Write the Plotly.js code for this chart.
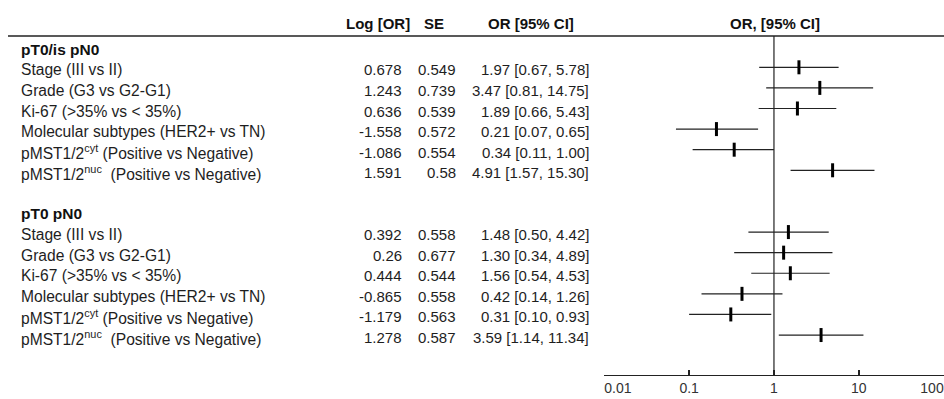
<!DOCTYPE html>
<html><head><meta charset="utf-8">
<script src="https://cdn.plot.ly/plotly-3.0.1.min.js"></script>
<style>html,body{margin:0;padding:0;background:#fff;} #chart{width:944px;height:399px;}</style>
</head><body><div id="chart"></div>
<script>
// ---- data ----
const groupNames = ["pT0/is pN0", "pT0 pN0"];
const variables = [
  "Stage (III vs II)",
  "Grade (G3 vs G2-G1)",
  "Ki-67 (&gt;35% vs &lt; 35%)",
  "Molecular subtypes (HER2+ vs TN)",
  "pMST1/2<sup>cyt</sup> (Positive vs Negative)",
  "pMST1/2<sup>nuc</sup>\u00a0 (Positive vs Negative)"
];
const logOR_A = [0.678, 1.243, 0.636, -1.558, -1.086, 1.591];
const se_A    = [0.549, 0.739, 0.539, 0.572, 0.554, 0.58];
const or_A    = [1.97, 3.47, 1.89, 0.21, 0.34, 4.91];
const lo_A    = [0.67, 0.81, 0.66, 0.07, 0.11, 1.57];
const hi_A    = [5.78, 14.75, 5.43, 0.65, 1.00, 15.30];
const logOR_B = [0.392, 0.26, 0.444, -0.865, -1.179, 1.278];
const se_B    = [0.558, 0.677, 0.544, 0.558, 0.563, 0.587];
const or_B    = [1.48, 1.30, 1.56, 0.42, 0.31, 3.59];
const lo_B    = [0.50, 0.34, 0.54, 0.14, 0.10, 1.14];
const hi_B    = [4.42, 4.89, 4.53, 1.26, 0.93, 11.34];
const colHeaders = ["Log [OR]", "SE", "OR [95% CI]", "OR, [95% CI]"];
const tickVals = [0.01, 0.1, 1, 10, 100];
const tickText = ["0.01", "0.1", "1", "10", "100"];

// ---- layout constants (pixels) ----
const W = 944, H = 399;
const TOP = 36, BOTTOM = 375;
const yTop = -0.52, yBot = 15.94;
const P = px => px / W;
const textColor = "#1e1e1e", lineColor = "#222";
const FONT = "Liberation Sans, Arial, sans-serif";
const NB = n => "\u00a0".repeat(n);
// end labels nudged inward like the reference (first starts at its tick, last kept near the edge)
const tickTextShown = tickText.map((t, i) => i === 0 ? NB(7) + t : (i === tickText.length - 1 ? t + NB(6) : t));

const groups = [
  {name: groupNames[0], start: 0, logOR: logOR_A, se: se_A, or: or_A, lo: lo_A, hi: hi_A},
  {name: groupNames[1], start: 8, logOR: logOR_B, se: se_B, or: or_B, lo: lo_B, hi: hi_B}
];

const ciX = [], ciY = [], ptX = [], ptY = [];
const annotations = [];
const numFont = {family: FONT, size: 15, color: textColor};
const labFont = {family: FONT, size: 15.6, color: textColor};
function ann(text, x, y, xanchor, font) {
  return {text: text, x: x, y: y, xref: "paper", yref: "y", xanchor: xanchor,
    yanchor: "middle", showarrow: false, font: font, borderpad: 0, borderwidth: 0, yshift: -2.5};
}
groups.forEach(g => {
  annotations.push(ann("<b>" + g.name + "</b>", P(21), g.start, "left", {family: FONT, size: 15.5, color: "#111"}));
  variables.forEach((v, i) => {
    const r = g.start + 1 + i;
    ciX.push(g.lo[i], g.hi[i], null); ciY.push(r, r, null);
    ptX.push(g.or[i]); ptY.push(r);
    annotations.push(ann(v, P(21), r, "left", labFont));
    annotations.push(ann(String(g.logOR[i]), P(402), r, "right", numFont));
    annotations.push(ann(String(g.se[i]), P(456), r, "right", numFont));
    annotations.push(ann(g.or[i].toFixed(2) + " [" + g.lo[i].toFixed(2) + ", " + g.hi[i].toFixed(2) + "]", P(589), r, "right", numFont));
  });
});
const hdrY = 1 + (TOP - 23) / (BOTTOM - TOP);
const hdrFont = {family: FONT, size: 15, color: "#111"};
[[colHeaders[0], 378], [colHeaders[1], 434], [colHeaders[2], 531], [colHeaders[3], 775]].forEach(h => {
  annotations.push({text: "<b>" + h[0] + "</b>", x: P(h[1]), y: hdrY, xref: "paper", yref: "paper",
    xanchor: "center", yanchor: "middle", showarrow: false, font: hdrFont, borderpad: 0, borderwidth: 0});
});

const traces = [
  {type: "scatter", mode: "lines", x: [1, 1], y: [yTop, yBot], line: {color: lineColor, width: 1.2}, hoverinfo: "skip"},
  {type: "scatter", mode: "lines", x: ciX, y: ciY, line: {color: lineColor, width: 1.2}, connectgaps: false, hoverinfo: "skip"},
  {type: "scatter", mode: "markers", x: ptX, y: ptY, marker: {symbol: "line-ns", size: 10, color: "#000", line: {color: "#000", width: 3}}, hoverinfo: "skip", cliponaxis: false}
];

const layout = {
  width: W, height: H,
  margin: {l: 0, r: 0, t: TOP, b: H - BOTTOM, pad: 0},
  paper_bgcolor: "#fff", plot_bgcolor: "#fff",
  showlegend: false,
  font: {family: FONT, color: textColor},
  xaxis: {type: "log", domain: [604 / W, 1], range: [-2.003, 2.004], tickvals: tickVals, ticktext: tickTextShown,
    ticks: "inside", ticklen: 5, tickwidth: 1.5, tickcolor: lineColor, showline: true, linecolor: lineColor, linewidth: 1.2, ticklabeloverflow: "allow",
    showgrid: false, zeroline: false, tickfont: {family: FONT, size: 14, color: "#333"}, fixedrange: true},
  yaxis: {range: [yBot, yTop], visible: false, showgrid: false, zeroline: false, fixedrange: true},
  shapes: [{type: "line", xref: "paper", yref: "paper", x0: P(8), x1: 1, y0: 1, y1: 1, line: {color: lineColor, width: 1.5}}],
  annotations: annotations
};
Plotly.newPlot("chart", traces, layout, {staticPlot: true, displayModeBar: false});
</script>
</body></html>
